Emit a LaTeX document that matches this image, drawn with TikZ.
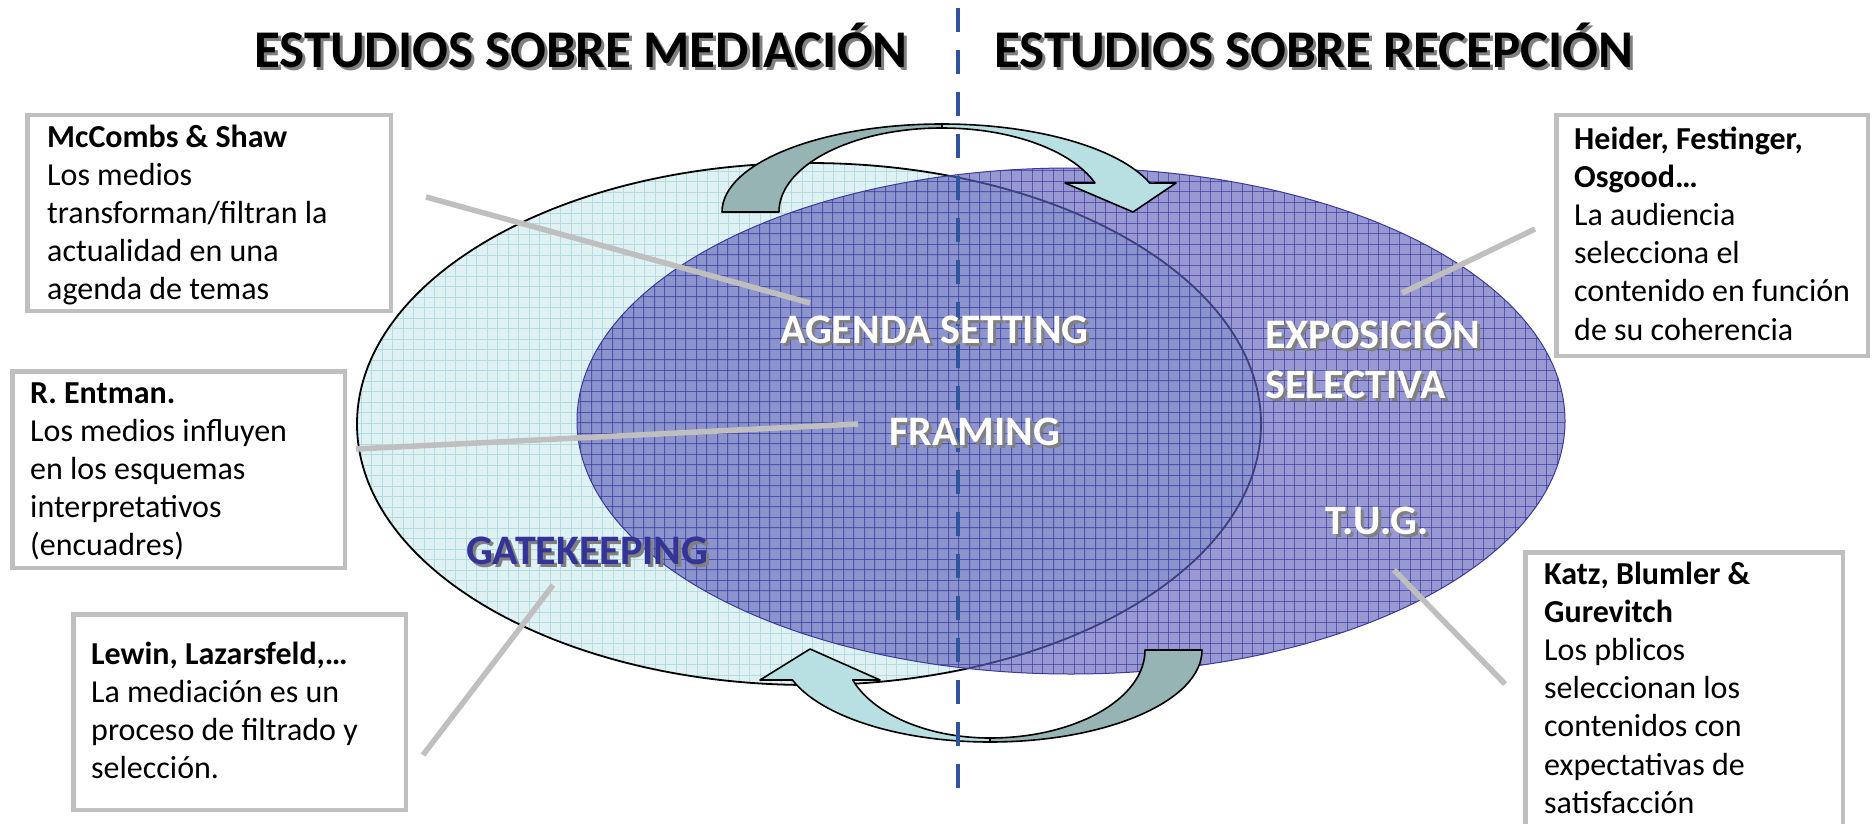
\documentclass[tikz,border=0pt]{standalone}
\usepackage{fontspec}
\setmainfont{Carlito}
\definecolor{cyanfill}{HTML}{DFF1F3}
\definecolor{cyangrid}{HTML}{B3DCE0}
\definecolor{purfill}{HTML}{6262BA}
\definecolor{purgrid}{HTML}{3C3CA0}
\definecolor{purline}{HTML}{3A3A9A}
\definecolor{dashblue}{HTML}{2E54A0}
\definecolor{boxgray}{HTML}{BFBFBF}
\definecolor{arrdarkc}{HTML}{97B4B5}
\definecolor{arrlightc}{HTML}{B8E0E2}
\definecolor{gatec}{HTML}{333399}
\definecolor{shadowc}{HTML}{808080}
\begin{document}
\begin{tikzpicture}[x=1pt,y=-1pt,
  titlefont/.style={font=\fontsize{53}{60}\selectfont\bfseries},
  lblfont/.style={font=\fontsize{42}{48}\selectfont\bfseries},
  boxfont/.style={font=\fontsize{32}{38.2}\selectfont},
  txt/.style={inner sep=0pt, anchor=base west},
  boxstyle/.style={draw=boxgray, line width=4.5pt, fill=white, inner sep=0pt},
  conn/.style={draw=boxgray, line width=5.5pt},
  lgrid/.style={draw=cyangrid, line width=0.8pt},
  pgrid/.style={draw=purgrid, line width=0.8pt, opacity=0.7},
  arrdark/.style={fill=arrdarkc, draw=black, line width=1.6pt, line join=round},
  arrlight/.style={fill=arrlightc, draw=black, line width=1.6pt, line join=round}]
\useasboundingbox (0,0) rectangle (1874,824);
\fill[white] (0,0) rectangle (1874,824);

% titles
\node[txt, titlefont, text=shadowc] (t1s) at (257,71) {ESTUDIOS SOBRE MEDIACIÓN};
\node[txt, titlefont] (t1) at (254,68) {ESTUDIOS SOBRE MEDIACIÓN};
\node[txt, titlefont, text=shadowc] (t2s) at (997,71) {ESTUDIOS SOBRE RECEPCIÓN};
\node[txt, titlefont] (t2) at (994,68) {ESTUDIOS SOBRE RECEPCIÓN};

% light ellipse
\begin{scope}
  \clip (809,424) ellipse[x radius=452, y radius=261];
  \fill[cyanfill] (340,150) rectangle (1280,700);
  \foreach \k in {0,...,90} { \draw[lgrid] (340+10.5*\k,150) -- (340+10.5*\k,700); }
  \foreach \k in {0,...,53} { \draw[lgrid] (340,150+10.5*\k) -- (1290,150+10.5*\k); }
\end{scope}
\draw[black, line width=1.8pt] (809,424) ellipse[x radius=452, y radius=261];

% purple ellipse
\begin{scope}
  \clip (1071,421) ellipse[x radius=494, y radius=253];
  \fill[purfill, fill opacity=0.65] (570,160) rectangle (1570,680);
  \foreach \k in {0,...,96} { \draw[pgrid] (570+10.5*\k,160) -- (570+10.5*\k,680); }
  \foreach \k in {0,...,50} { \draw[pgrid] (570,160+10.5*\k) -- (1580,160+10.5*\k); }
\end{scope}
\draw[purline, line width=1pt] (1071,421) ellipse[x radius=494, y radius=253];

% top arrow
\draw[arrdark] (722,212) arc[start angle=180,end angle=270,x radius=220,y radius=88]
  -- (942,128) arc[start angle=270,end angle=180,x radius=163,y radius=84] -- cycle;
\draw[arrlight] (942,124) arc[start angle=270,end angle=340.8,x radius=220,y radius=88]
  -- (1176,183) -- (1133,212) -- (1065,183) -- (1095,183)
  arc[start angle=339.8,end angle=270,x radius=163,y radius=84] -- cycle;

% bottom arrow
\draw[arrlight] (990,742) arc[start angle=90,end angle=160.97,x radius=209,y radius=92]
  -- (760,680) -- (810,649) -- (880,680) -- (852.7,680)
  arc[start angle=160.07,end angle=90,x radius=146,y radius=88] -- cycle;
\draw[arrdark] (1202,650) arc[start angle=0,end angle=90,x radius=212,y radius=92]
  -- (990,738) arc[start angle=90,end angle=0,x radius=155,y radius=88] -- cycle;

% dashed divider
\coordinate (dtop) at (958,8);
\coordinate (dbot) at (958,789);
\draw[dashblue, line width=4pt, dash pattern=on 24pt off 18pt] (dtop) -- (dbot);

% labels in ellipses
\node[txt, lblfont, text=shadowc] (ags) at (783,346) {AGENDA SETTING};
\node[txt, lblfont, text=white] (ag) at (780,343) {AGENDA SETTING};
\node[txt, lblfont, text=shadowc] (frs) at (892,448) {FRAMING};
\node[txt, lblfont, text=white] (fr) at (889,445) {FRAMING};
\node[txt, lblfont, text=shadowc, align=left] (exs) at (1268,401) {EXPOSICIÓN\\[2pt]SELECTIVA};
\node[txt, lblfont, text=white, align=left] (ex) at (1265,398) {EXPOSICIÓN\\[2pt]SELECTIVA};
\node[txt, lblfont, text=shadowc] (tugs) at (1328,537) {T.U.G.};
\node[txt, lblfont, text=white] (tug) at (1325,534) {T.U.G.};
\node[txt, lblfont, text=shadowc] (gks) at (469,567) {GATEKEEPING};
\node[txt, lblfont, text=gatec] (gk) at (466,564) {GATEKEEPING};

% connectors
\coordinate (l1a) at (426,197); \coordinate (l1b) at (810,303);
\coordinate (l2a) at (356,449); \coordinate (l2b) at (858,424);
\coordinate (l3a) at (553,585); \coordinate (l3b) at (423,755);
\coordinate (l4a) at (1535,229); \coordinate (l4b) at (1402,293);
\coordinate (l5a) at (1394,570); \coordinate (l5b) at (1505,684);
\draw[conn] (l1a) -- (l1b);
\draw[conn] (l2a) -- (l2b);
\draw[conn] (l3a) -- (l3b);
\draw[conn] (l4a) -- (l4b);
\draw[conn] (l5a) -- (l5b);

% boxes
\node[boxstyle, minimum width=363.5pt, minimum height=195.5pt] (b1) at (209,213) {};
\node[boxstyle, minimum width=332.5pt, minimum height=196.5pt] (b2) at (178.5,469.5) {};
\node[boxstyle, minimum width=332.5pt, minimum height=195.5pt] (b3) at (239.5,712) {};
\node[boxstyle, minimum width=311.5pt, minimum height=240.5pt] (b4) at (1712,235.5) {};
\node[boxstyle, minimum width=317.5pt, minimum height=280.5pt] (b5) at (1684,692.5) {};

% box texts (anchored at the baseline of their last line)
\node[txt, boxfont, align=left] (b1t) at (47,299.8) {\textbf{McCombs \& Shaw}\\Los medios\\transforman/filtran la\\actualidad en una\\agenda de temas};
\node[txt, boxfont, align=left] (b2t) at (30,555.8) {\textbf{R. Entman.}\\Los medios influyen\\en los esquemas\\interpretativos\\(encuadres)};
\node[txt, boxfont, align=left] (b3t) at (91,778.6) {\textbf{Lewin, Lazarsfeld,…}\\La mediación es un\\proceso de filtrado y\\selección.};
\node[txt, boxfont, align=left] (b4t) at (1574,340) {\textbf{Heider, Festinger,}\\\textbf{Osgood…}\\La audiencia\\selecciona el\\contenido en función\\de su coherencia};
\node[txt, boxfont, align=left] (b5t) at (1544,813.2) {\textbf{Katz, Blumler \&}\\\textbf{Gurevitch}\\Los pblicos\\seleccionan los\\contenidos con\\expectativas de\\satisfacción};
\end{tikzpicture}
\end{document}
